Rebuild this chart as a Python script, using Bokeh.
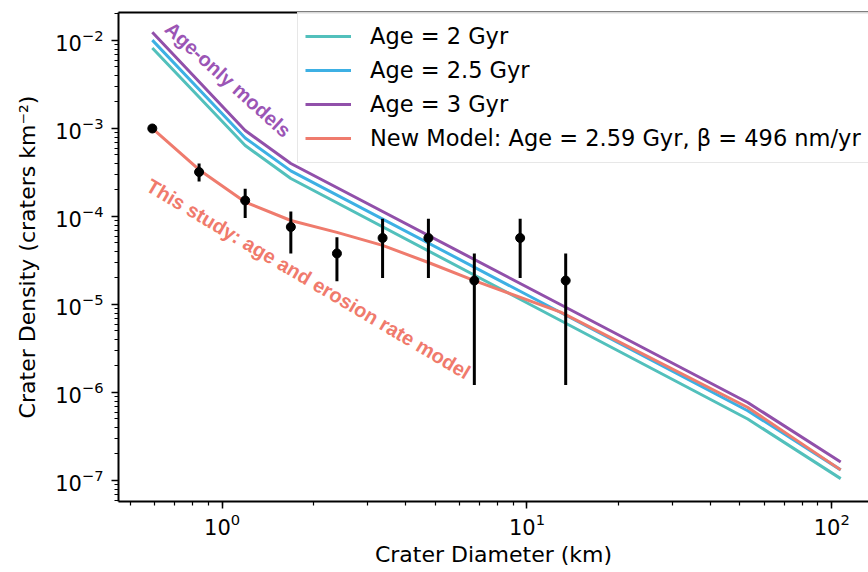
from bokeh.plotting import figure
from bokeh.models import Range1d, LogAxis, FixedTicker, Legend, LegendItem
from bokeh.core.properties import value
from bokeh.embed import file_html
from bokeh.resources import INLINE

# ---- data ----
diam_bins = [0.59, 0.84, 1.19, 1.68, 2.38, 3.36, 4.75, 6.72, 9.5, 13.4]
density = [1.0e-3, 3.2e-4, 1.52e-4, 7.6e-5, 3.8e-5, 5.7e-5, 5.7e-5, 1.87e-5, 5.7e-5, 1.87e-5]
density_hi = [1.08e-3, 4.0e-4, 2.07e-4, 1.14e-4, 5.8e-5, 9.4e-5, 9.4e-5, 3.8e-5, 9.4e-5, 3.8e-5]
density_lo = [0.93e-3, 2.5e-4, 9.6e-5, 3.8e-5, 1.84e-5, 2.0e-5, 2.0e-5, 1.22e-6, 2.0e-5, 1.22e-6]

age_diam = [0.59, 1.19, 1.68, 53.0, 107.0]
age_2 = [8.2e-3, 6.4e-4, 2.7e-4, 5.0e-7, 1.05e-7]
age_25 = [1.01e-2, 7.8e-4, 3.3e-4, 6.2e-7, 1.32e-7]
age_3 = [1.24e-2, 9.5e-4, 4.0e-4, 7.7e-7, 1.62e-7]

new_diam = [0.59, 0.84, 1.19, 1.68, 2.38, 3.36, 4.75, 6.72, 12.9, 52.9, 107.0]
new_model = [1.0e-3, 3.4e-4, 1.46e-4, 9.0e-5, 6.6e-5, 4.7e-5, 3.0e-5, 1.87e-5, 8.2e-6, 6.8e-7, 1.32e-7]

labels = ["Age = 2 Gyr", "Age = 2.5 Gyr", "Age = 3 Gyr",
          "New Model: Age = 2.59 Gyr, \u03b2 = 496 nm/yr"]
colors = ["#52c0bc", "#3db0e4", "#9150aa", "#ef7b6d"]

FONT = "DejaVu Sans"

p = figure(width=868, height=572, x_axis_type="log", y_axis_type="log",
           x_range=Range1d(0.457, 132), y_range=Range1d(5.77e-8, 2.08e-2),
           output_backend="svg", toolbar_location=None,
           min_border_left=118, min_border_right=0, min_border_top=12,
           min_border_bottom=71)
p.outline_line_color = None
p.grid.visible = False
p.background_fill_color = "white"
p.border_fill_color = "white"

r2 = p.line(age_diam, age_2, line_color=colors[0], line_width=3)
r25 = p.line(age_diam, age_25, line_color=colors[1], line_width=3)
r3 = p.line(age_diam, age_3, line_color=colors[2], line_width=3)
rn = p.line(new_diam, new_model, line_color=colors[3], line_width=3)

p.segment(x0=diam_bins, y0=density_lo, x1=diam_bins, y1=density_hi,
          line_color="black", line_width=3)
p.scatter(diam_bins, density, size=9, color="black")

p.text(x=[1.045], y=[3.6e-3], text=["Age-only models"], angle=-0.733,
       text_font=value("Liberation Sans"), text_font_style="bold",
       text_font_size="20px", text_color="#9b55b5",
       text_align="center", text_baseline="middle")
p.text(x=[1.92], y=[1.95e-5], text=["This study: age and erosion rate model"],
       angle=-0.535, text_font=value("Liberation Sans"), text_font_style="bold",
       text_font_size="20px", text_color="#f07a6c",
       text_align="center", text_baseline="middle")

for ax in (p.xaxis[0], p.yaxis[0]):
    ax.axis_line_width = 2
    ax.axis_line_color = "black"
    ax.major_tick_line_width = 1.5
    ax.minor_tick_line_width = 1.2
    ax.major_tick_out = 7
    ax.major_tick_in = 0
    ax.minor_tick_out = 4
    ax.minor_tick_in = 0
    ax.major_label_text_font = FONT
    ax.major_label_text_font_size = "21px"
    ax.major_label_text_color = "black"
    ax.axis_label_text_font = FONT
    ax.axis_label_text_font_size = "22px"
    ax.axis_label_text_font_style = "normal"
    ax.axis_label_text_color = "black"

p.xaxis[0].axis_label = "Crater Diameter (km)"
p.yaxis[0].axis_label = "Crater Density (craters km\u207b\u00b2)"
p.xaxis[0].major_label_standoff = 4
p.xaxis[0].axis_label_standoff = 4
p.yaxis[0].major_label_standoff = 8
p.yaxis[0].axis_label_standoff = 12

top = LogAxis(ticker=FixedTicker(ticks=[]), axis_line_width=2, axis_line_color="black",
              major_label_text_font_size="0px", major_tick_out=0, minor_tick_out=0)
p.add_layout(top, "above")

legend = Legend(items=[LegendItem(label=labels[0], renderers=[r2]),
                       LegendItem(label=labels[1], renderers=[r25]),
                       LegendItem(label=labels[2], renderers=[r3]),
                       LegendItem(label=labels[3], renderers=[rn])],
                location=(179, 338))
legend.label_text_font = FONT
legend.label_text_font_size = "22.5px"
legend.label_text_color = "black"
legend.label_height = 34
legend.glyph_height = 20
legend.glyph_width = 46
legend.label_standoff = 19
legend.spacing = 0
legend.padding = 7
legend.margin = 0
legend.border_line_color = "#d0d0d0"
legend.border_line_width = 1
legend.background_fill_color = "white"
legend.background_fill_alpha = 0.85
p.add_layout(legend)

open("out.html", "w").write(file_html(p, INLINE))
